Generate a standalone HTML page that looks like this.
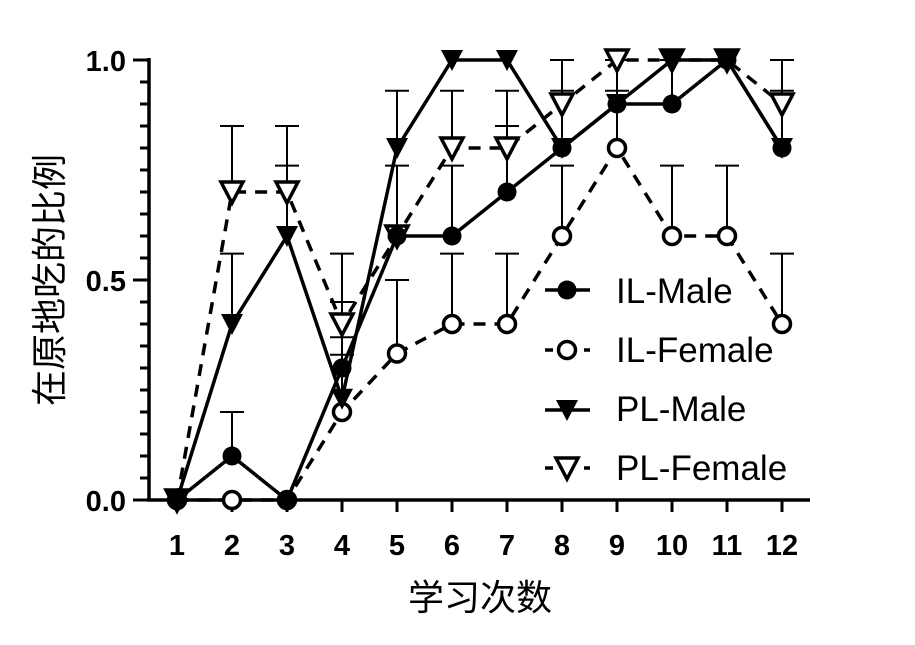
<!DOCTYPE html>
<html><head><meta charset="utf-8"><style>
html,body{margin:0;padding:0;background:#fff;}
svg{display:block;}
</style></head><body>
<svg id="s" width="915" height="645" xmlns="http://www.w3.org/2000/svg" font-family="Liberation Sans, sans-serif">
<g stroke="#000" stroke-width="3.5" fill="none">
<line x1="149" y1="58" x2="149" y2="501"/>
<line x1="147" y1="500" x2="810" y2="500"/>
</g>
<g id="ticks" stroke="#000" stroke-width="3"></g>
<g font-weight="bold" font-size="29" text-anchor="end">
<text x="126" y="71">1.0</text><text x="126" y="291">0.5</text><text x="126" y="511">0.0</text>
</g>
<g id="xl" font-weight="bold" font-size="29" text-anchor="middle"></g>
<text x="480" y="610" font-size="36" text-anchor="middle" font-family="Liberation Sans, Noto Sans CJK SC, sans-serif">学习次数</text>
<text transform="translate(62,280) rotate(-90)" font-size="36" text-anchor="middle" font-family="Liberation Sans, Noto Sans CJK SC, sans-serif">在原地吃的比例</text>
<g id="err" stroke="#000" stroke-width="2"></g>
<g id="lines" stroke="#000" stroke-width="3.5" fill="none"></g>
<g id="marks"></g>
<g font-size="35">
<text x="616" y="303">IL-Male</text><text x="616" y="362">IL-Female</text>
<text x="616" y="421">PL-Male</text><text x="616" y="480">PL-Female</text>
</g>
<g id="leg"></g>
</svg>
<script>
var NS="http://www.w3.org/2000/svg";
function el(p,t,a){var e=document.createElementNS(NS,t);for(var k in a)e.setAttribute(k,a[k]);document.getElementById(p).appendChild(e);return e;}
function X(i){return 177+55*i;}function Y(v){return 500-440*v;}
for(var k=0;k<=20;k++){var y=Y(k*0.05);var big=k%10==0;el("ticks","line",{x1:big?133:140,y1:y,x2:149,y2:y});}
for(var i=0;i<12;i++){el("ticks","line",{x1:X(i),y1:500,x2:X(i),y2:512});var t=el("xl","text",{x:X(i),y:555});t.textContent=i+1;}
var ILM=[0,0.1,0,0.3,0.6,0.6,0.7,0.8,0.9,0.9,1,0.8];
var ILF=[0,0,0,0.2,0.333,0.4,0.4,0.6,0.8,0.6,0.6,0.4];
var PLM=[0,0.4,0.6,0.23,0.8,1,1,0.8,0.9,1,1,0.8];
var PLF=[0,0.7,0.7,0.4,0.6,0.8,0.8,0.9,1,1,1,0.9];
var E=[[1,0.1,0.2],[1,0.4,0.56],[1,0.7,0.85],[2,0.6,0.76],[2,0.7,0.85],
[3,0.3,0.56],[3,0.4,0.45],[3,0.3,0.37],[3,0.23,0.33],
[4,0.8,0.93],[4,0.6,0.76],[4,0.333,0.5],[5,0.8,0.93],[5,0.6,0.76],[5,0.4,0.56],
[6,0.8,0.93],[6,0.7,0.85],[6,0.4,0.56],[7,0.9,1.0],[7,0.8,0.93],[7,0.6,0.76],
[8,0.8,0.93],[8,0.9,1.0],[9,0.6,0.76],[9,0.9,1.0],[10,0.6,0.76],[11,0.9,1.0],[11,0.8,0.93],[11,0.4,0.56]];
E.forEach(function(e){var x=X(e[0]);el("err","line",{x1:x,y1:Y(e[1]),x2:x,y2:Y(e[2])});el("err","line",{x1:x-12,y1:Y(e[2]),x2:x+12,y2:Y(e[2])});});
function pl(d,dash){var p=d.map(function(v,i){return X(i)+","+Y(v)}).join(" ");var a={points:p};if(dash)a["stroke-dasharray"]="12,9";el("lines","polyline",a);}
pl(ILF,1);pl(PLF,1);pl(ILM,0);pl(PLM,0);
function circ(g,x,y,f){if(f)el(g,"circle",{cx:x,cy:y,r:9.5,fill:"#000"});else el(g,"circle",{cx:x,cy:y,r:8.5,fill:"#fff",stroke:"#000","stroke-width":3.5});}
function tri(g,x,y,f){var p=(x-11)+","+(y-10)+" "+(x+11)+","+(y-10)+" "+x+","+(y+11);el(g,"polygon",f?{points:p,fill:"#000"}:{points:p,fill:"#fff",stroke:"#000","stroke-width":3.5,"stroke-linejoin":"miter"});}
ILF.forEach(function(v,i){circ("marks",X(i),Y(v),0)});
PLF.forEach(function(v,i){tri("marks",X(i),Y(v),0)});
ILM.forEach(function(v,i){circ("marks",X(i),Y(v),1)});
PLM.forEach(function(v,i){tri("marks",X(i),Y(v),1)});
var ly=[290,350,410,468];
el("leg","line",{x1:545,y1:ly[0],x2:590,y2:ly[0],stroke:"#000","stroke-width":3.5});circ("leg",567,ly[0],1);
el("leg","line",{x1:545,y1:ly[1],x2:553,y2:ly[1],stroke:"#000","stroke-width":3.5});el("leg","line",{x1:584,y1:ly[1],x2:590,y2:ly[1],stroke:"#000","stroke-width":3.5});circ("leg",567,ly[1],0);
el("leg","line",{x1:545,y1:ly[2],x2:590,y2:ly[2],stroke:"#000","stroke-width":3.5});tri("leg",567,ly[2],1);
el("leg","line",{x1:545,y1:ly[3],x2:553,y2:ly[3],stroke:"#000","stroke-width":3.5});el("leg","line",{x1:584,y1:ly[3],x2:590,y2:ly[3],stroke:"#000","stroke-width":3.5});tri("leg",567,ly[3],0);
</script>
</body></html>
